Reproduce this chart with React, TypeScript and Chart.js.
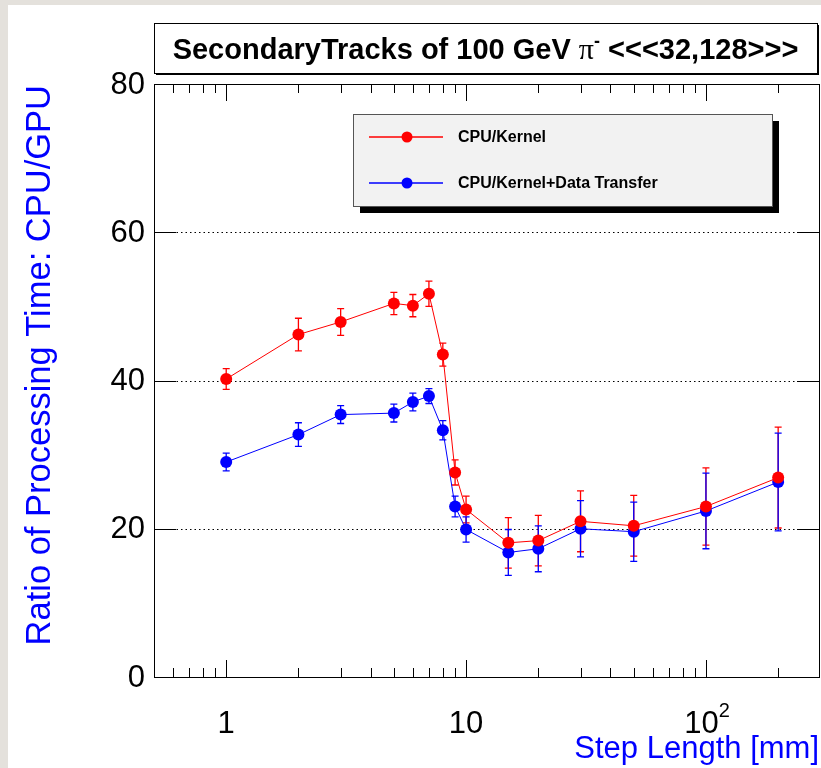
import React, { useEffect, useRef } from "react";
import { Chart, registerables } from "chart.js";

Chart.register(...registerables);

const stepLengths = [1, 2, 3, 5, 6, 7, 8, 9, 10, 15, 20, 30, 50, 100, 200];
const kernelRatio = [40.2, 46.2, 47.9, 50.4, 50.1, 51.7, 43.5, 27.6, 22.6, 18.1, 18.4, 21.0, 20.4, 23.0, 26.9];
const kernelErr = [1.4, 2.2, 1.8, 1.5, 1.5, 1.7, 1.55, 1.7, 1.8, 3.4, 3.4, 4.1, 4.1, 5.2, 6.8];
const transferRatio = [29.0, 32.7, 35.4, 35.6, 37.1, 37.9, 33.3, 23.0, 19.9, 16.8, 17.3, 20.0, 19.6, 22.4, 26.3];
const transferErr = [1.2, 1.6, 1.2, 1.2, 1.2, 1.0, 1.3, 1.4, 1.7, 3.1, 3.1, 3.8, 4.0, 5.1, 6.6];
const seriesLabels = ["CPU/Kernel", "CPU/Kernel+Data Transfer"];
const seriesColors = ["#ff0000", "#0000ff"];
const yTicks = [0, 20, 40, 60, 80];
const yGridLines = [20, 40, 60];
const xMajorTicks = [1, 10, 100];
const xTickBase = ["1", "10", "10"];
const xTickExp = ["", "", "2"];
const titleParts = ["SecondaryTracks of 100 GeV ", "π", "-", " <<<32,128>>>"];
const yTitle = "Ratio of Processing Time: CPU/GPU";
const xTitle = "Step Length [mm]";

const FONT = "'Liberation Sans', Arial, Helvetica, sans-serif";

const rootStyle = {
  id: "rootStyle",
  beforeDraw(chart: any) {
    const { ctx, width, height, chartArea: a, scales } = chart;
    ctx.save();
    ctx.fillStyle = "#e4e1dc";
    ctx.fillRect(0, 0, width, height);
    ctx.fillStyle = "#ffffff";
    ctx.fillRect(8, 5, width - 8, height - 5);
    ctx.strokeStyle = "#000000";
    ctx.lineWidth = 1;
    ctx.setLineDash([1.5, 3]);
    for (const v of yGridLines) {
      const y = Math.round(scales.y.getPixelForValue(v)) + 0.5;
      ctx.beginPath();
      ctx.moveTo(a.left, y);
      ctx.lineTo(a.right, y);
      ctx.stroke();
    }
    ctx.setLineDash([]);
    ctx.restore();
  },
  beforeDatasetsDraw(chart: any) {
    const { ctx, scales } = chart;
    ctx.save();
    chart.data.datasets.forEach((ds: any, i: number) => {
      const meta = chart.getDatasetMeta(i);
      ctx.strokeStyle = seriesColors[i];
      ctx.lineWidth = 1.3;
      meta.data.forEach((pt: any, j: number) => {
        const v = ds.data[j].y;
        const e = ds.errors[j];
        const yt = scales.y.getPixelForValue(v + e);
        const yb = scales.y.getPixelForValue(v - e);
        ctx.beginPath();
        ctx.moveTo(pt.x, yt);
        ctx.lineTo(pt.x, yb);
        ctx.moveTo(pt.x - 3.5, yt);
        ctx.lineTo(pt.x + 3.5, yt);
        ctx.moveTo(pt.x - 3.5, yb);
        ctx.lineTo(pt.x + 3.5, yb);
        ctx.stroke();
      });
    });
    ctx.restore();
  },
  afterDatasetsDraw(chart: any) {
    const { ctx, chartArea: a, scales } = chart;
    const xs = scales.x;
    const ys = scales.y;
    ctx.save();
    ctx.strokeStyle = "#000000";
    ctx.lineWidth = 1;
    ctx.strokeRect(Math.round(a.left) + 0.5, Math.round(a.top) + 0.5, Math.round(a.right - a.left), Math.round(a.bottom - a.top));
    for (const v of yTicks) {
      const y = Math.round(ys.getPixelForValue(v)) + 0.5;
      ctx.beginPath();
      ctx.moveTo(a.left, y);
      ctx.lineTo(a.left + 22, y);
      ctx.moveTo(a.right, y);
      ctx.lineTo(a.right - 22, y);
      ctx.stroke();
    }
    const xmin = xs.min;
    const xmax = xs.max;
    for (let d = -1; d <= 3; d++) {
      const base = Math.pow(10, d);
      for (let m = 1; m <= 9; m++) {
        const v = m * base;
        if (v < xmin || v > xmax) continue;
        const x = Math.round(xs.getPixelForValue(v)) + 0.5;
        const len = m === 1 ? 17 : 9;
        ctx.beginPath();
        ctx.moveTo(x, a.bottom);
        ctx.lineTo(x, a.bottom - len);
        ctx.moveTo(x, a.top);
        ctx.lineTo(x, a.top + len);
        ctx.stroke();
      }
    }
    ctx.fillStyle = "#000000";
    ctx.font = `31px ${FONT}`;
    ctx.textAlign = "right";
    ctx.textBaseline = "middle";
    for (const v of yTicks) {
      ctx.fillText(String(v), a.left - 9, ys.getPixelForValue(v) + 1);
    }
    ctx.textBaseline = "alphabetic";
    xMajorTicks.forEach((v, i) => {
      const x = xs.getPixelForValue(v);
      ctx.font = `31px ${FONT}`;
      const wb = ctx.measureText(xTickBase[i]).width;
      ctx.font = `20px ${FONT}`;
      const we = xTickExp[i] ? ctx.measureText(xTickExp[i]).width : 0;
      const start = x - (wb + we) / 2 + (we ? 1 : 0);
      ctx.textAlign = "left";
      ctx.font = `31px ${FONT}`;
      ctx.fillText(xTickBase[i], start, a.bottom + 56);
      if (xTickExp[i]) {
        ctx.font = `20px ${FONT}`;
        ctx.fillText(xTickExp[i], start + wb, a.bottom + 40);
      }
    });
    ctx.fillStyle = "#0000ff";
    ctx.font = `31px ${FONT}`;
    ctx.textAlign = "right";
    ctx.fillText(xTitle, a.right, 758);
    ctx.save();
    ctx.translate(50, a.top + 1);
    ctx.rotate(-Math.PI / 2);
    ctx.font = `34.5px ${FONT}`;
    ctx.textAlign = "right";
    ctx.fillText(yTitle, 0, 0);
    ctx.restore();

    const tb = { l: 154, t: 23, r: 817, b: 73 };
    ctx.fillStyle = "#000000";
    ctx.fillRect(tb.l + 2, tb.t + 2, tb.r - tb.l, tb.b - tb.t);
    ctx.fillStyle = "#ffffff";
    ctx.fillRect(tb.l, tb.t, tb.r - tb.l, tb.b - tb.t);
    ctx.strokeStyle = "#000000";
    ctx.lineWidth = 1;
    ctx.strokeRect(tb.l + 0.5, tb.t + 0.5, tb.r - tb.l, tb.b - tb.t);
    const fonts = [`bold 29px ${FONT}`, `30px 'Liberation Serif', 'DejaVu Serif', serif`, `bold 18px ${FONT}`, `bold 29px ${FONT}`];
    const widths = titleParts.map((s, i) => {
      ctx.font = fonts[i];
      return ctx.measureText(s).width;
    });
    const total = widths.reduce((p, c) => p + c, 0);
    let cx = (tb.l + tb.r) / 2 - total / 2;
    ctx.fillStyle = "#000000";
    ctx.textAlign = "left";
    ctx.textBaseline = "alphabetic";
    titleParts.forEach((s, i) => {
      ctx.font = fonts[i];
      ctx.fillText(s, cx, i === 2 ? 47 : 59);
      cx += widths[i];
    });

    const lg = { l: 353, t: 114, r: 772, b: 206 };
    ctx.fillStyle = "#000000";
    ctx.fillRect(lg.l + 7, lg.t + 7, lg.r - lg.l, lg.b - lg.t);
    ctx.fillStyle = "#f2f2f2";
    ctx.fillRect(lg.l, lg.t, lg.r - lg.l, lg.b - lg.t);
    ctx.strokeStyle = "#555555";
    ctx.strokeRect(lg.l + 0.5, lg.t + 0.5, lg.r - lg.l, lg.b - lg.t);
    const rowY = [137, 183];
    chart.data.datasets.forEach((ds: any, i: number) => {
      const y = rowY[i];
      ctx.strokeStyle = seriesColors[i];
      ctx.lineWidth = 1.5;
      ctx.beginPath();
      ctx.moveTo(369, y);
      ctx.lineTo(443, y);
      ctx.stroke();
      ctx.fillStyle = seriesColors[i];
      ctx.beginPath();
      ctx.arc(407, y, 5.5, 0, Math.PI * 2);
      ctx.fill();
      ctx.fillStyle = "#000000";
      ctx.font = `bold 16px ${FONT}`;
      ctx.textAlign = "left";
      ctx.textBaseline = "middle";
      ctx.fillText(ds.label, 458, y + 1);
    });
    ctx.restore();
  },
};

export default function App() {
  const ref = useRef<HTMLCanvasElement>(null);
  useEffect(() => {
    document.body.style.margin = "0";
    const makeSeries = (vals: number[], errs: number[], idx: number) => ({
      label: seriesLabels[idx],
      data: stepLengths.map((x, i) => ({ x, y: vals[i] })),
      errors: errs,
      borderColor: seriesColors[idx],
      backgroundColor: seriesColors[idx],
      borderWidth: 1,
      pointRadius: 6,
      pointBorderWidth: 0,
      pointHoverRadius: 6,
      tension: 0,
    });
    const chart = new Chart(ref.current as HTMLCanvasElement, {
      type: "line",
      data: {
        datasets: [makeSeries(kernelRatio, kernelErr, 0), makeSeries(transferRatio, transferErr, 1)] as any,
      },
      options: {
        responsive: false,
        animation: false,
        layout: { autoPadding: false, padding: { left: 154, top: 84, right: 2, bottom: 91 } },
        scales: {
          x: { type: "logarithmic", min: 0.5, max: 296, display: false },
          y: { type: "linear", min: 0, max: 80, display: false },
        },
        plugins: {
          legend: { display: false },
          tooltip: { enabled: false },
          title: { display: false },
        },
      } as any,
      plugins: [rootStyle],
    });
    return () => chart.destroy();
  }, []);
  return <canvas ref={ref} width={821} height={768} style={{ display: "block" }} />;
}
